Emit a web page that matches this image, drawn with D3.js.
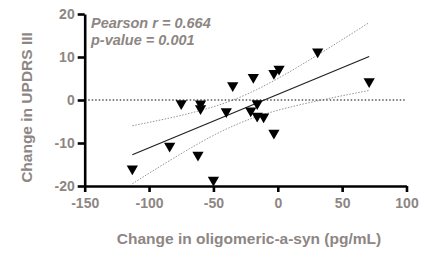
<!DOCTYPE html>
<html>
<head>
  <meta charset="utf-8">
  <script src="https://cdn.jsdelivr.net/npm/d3@7"></script>
  <style>
    body { margin: 0; background: #fff; }
    text { font-family: "Liberation Sans", Arial, sans-serif; font-weight: bold; fill: #8d8683; }
  </style>
</head>
<body>
  <script>
    // size of the picture
    const w = 434;
    const h = 253;

    // data
    const xVals = [-113, -84, -62, -50, -75, -60, -60, -40, -35, -19, -21, -16, -16, -11, -3, 1, -3, 31, 71];
    const yVals = [-16, -10.7, -12.8, -18.6, -0.8, -0.9, -2, -2.7, 3.4, 5.3, -2.5, -0.8, -3.7, -3.9, 6.2, 7.2, -7.7, 11.2, 4.3];
    const xTicks = [-150, -100, -50, 0, 50, 100];
    const yTicks = [-20, -10, 0, 10, 20];
    const statLines = ["Pearson r = 0.664", "p-value = 0.001"];

    const x = d3.scaleLinear().domain([-150, 100]).range([84.7, 406.5]);
    const y = d3.scaleLinear().domain([-20, 20]).range([186, 14]);

    const svg = d3.select("body").append("svg")
      .attr("width", w)
      .attr("height", h);

    // linear fit and 95% confidence band
    const n = xVals.length;
    const mx = d3.mean(xVals), my = d3.mean(yVals);
    let sxx = 0, sxy = 0;
    for (let i = 0; i < n; i++) {
      sxx += (xVals[i] - mx) ** 2;
      sxy += (xVals[i] - mx) * (yVals[i] - my);
    }
    const slope = sxy / sxx;
    const icpt = my - slope * mx;
    let sse = 0;
    for (let i = 0; i < n; i++) sse += (yVals[i] - (icpt + slope * xVals[i])) ** 2;
    const se = Math.sqrt(sse / (n - 2));
    const tval = 2.11;
    const x0 = d3.min(xVals), x1 = d3.max(xVals);
    const band = d3.range(0, 41).map(function (k) {
      const xv = x0 + (x1 - x0) * k / 40;
      const fit = icpt + slope * xv;
      const hw = tval * se * Math.sqrt(1 / n + (xv - mx) ** 2 / sxx);
      return { x: xv, fit: fit, lo: fit - hw, hi: fit + hw };
    });

    // zero line
    svg.append("line")
      .attr("x1", x(-150)).attr("x2", x(100))
      .attr("y1", y(0)).attr("y2", y(0))
      .attr("stroke", "#000").attr("stroke-width", 1.2)
      .attr("stroke-dasharray", "1.5,2");

    // confidence band
    ["lo", "hi"].forEach(function (k) {
      svg.append("path")
        .datum(band)
        .attr("fill", "none")
        .attr("stroke", "#777")
        .attr("stroke-width", 0.8)
        .attr("stroke-dasharray", "1.5,1.5")
        .attr("d", d3.line().x(d => x(d.x)).y(d => y(d[k])));
    });

    // fit line
    svg.append("line")
      .attr("x1", x(x0)).attr("x2", x(x1))
      .attr("y1", y(icpt + slope * x0)).attr("y2", y(icpt + slope * x1))
      .attr("stroke", "#222").attr("stroke-width", 1.3);

    // points (downward triangles)
    const tri = d3.symbol().type(d3.symbolTriangle).size(55);
    svg.selectAll(".pt")
      .data(xVals)
      .enter()
      .append("path")
      .attr("class", "pt")
      .attr("d", tri)
      .attr("fill", "#000")
      .attr("transform", function (d, i) {
        return "translate(" + x(d) + "," + y(yVals[i]) + ") rotate(180)";
      });

    // axes
    const xAxis = svg.append("g")
      .attr("transform", "translate(0," + y(-20) + ")")
      .call(d3.axisBottom(x).tickValues(xTicks).tickFormat(d => String(d))
        .tickSize(6).tickSizeOuter(0).tickPadding(6));
    const yAxis = svg.append("g")
      .attr("transform", "translate(" + x(-150) + ",0)")
      .call(d3.axisLeft(y).tickValues(yTicks).tickFormat(d => String(d))
        .tickSize(7).tickSizeOuter(0).tickPadding(3));
    [xAxis, yAxis].forEach(function (g) {
      g.select(".domain").attr("stroke", "#000").attr("stroke-width", 2.6);
      g.selectAll(".tick line").attr("stroke", "#000").attr("stroke-width", 2.6);
      g.selectAll(".tick text").style("font-size", "14px").attr("fill", "#8d8683");
    });

    // titles
    svg.append("text")
      .attr("x", 249).attr("y", 243.5)
      .attr("text-anchor", "middle")
      .style("font-size", "15.5px")
      .text("Change in oligomeric-a-syn (pg/mL)");
    svg.append("text")
      .attr("transform", "translate(31.5,107.5) rotate(-90)")
      .attr("text-anchor", "middle")
      .style("font-size", "15.5px")
      .text("Change in UPDRS III");

    // stats
    svg.selectAll(".stat")
      .data(statLines)
      .enter()
      .append("text")
      .attr("class", "stat")
      .attr("x", 91)
      .attr("y", (d, i) => 28 + i * 17)
      .style("font-size", "14.5px")
      .style("font-style", "italic")
      .text(d => d);
  </script>
</body>
</html>
